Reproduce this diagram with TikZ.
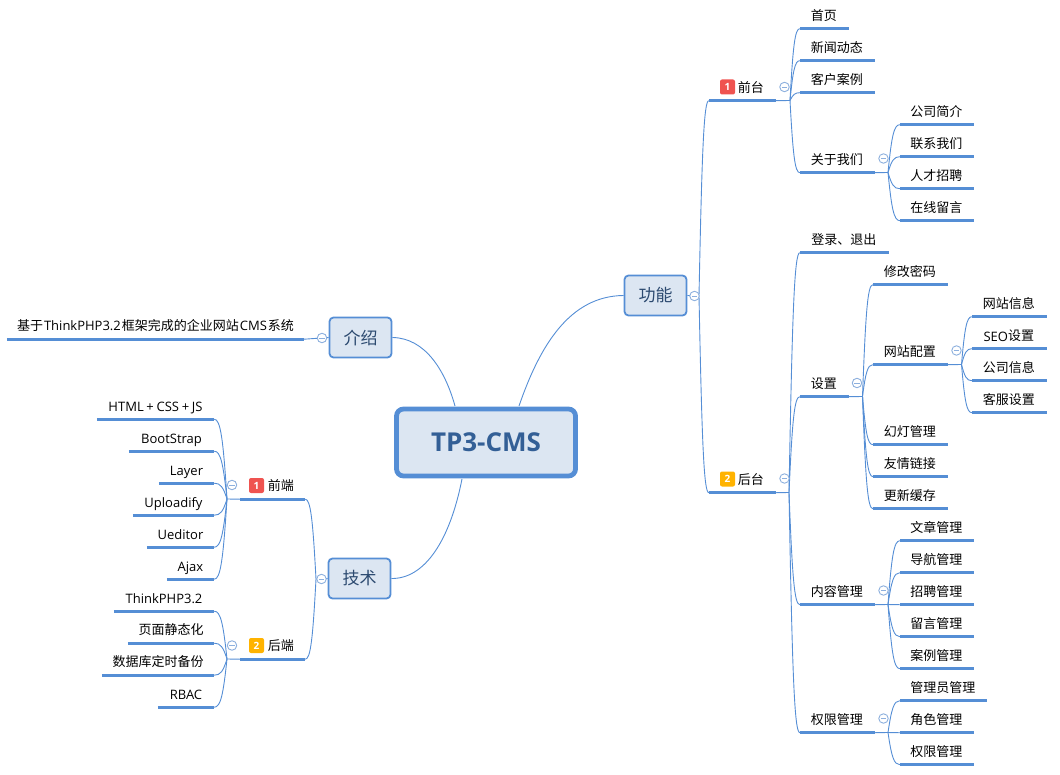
\documentclass[tikz,border=0pt]{standalone}
\usepackage{fontspec}
\setmainfont{Noto Sans CJK SC}
\newfontfamily\rootfont{Open Sans}
\usetikzlibrary{calc}
\definecolor{lineblue}{HTML}{558ED5}
\definecolor{boxfill}{HTML}{DCE6F2}
\definecolor{rootink}{HTML}{335F96}
\definecolor{mainink}{HTML}{2C4A70}
\definecolor{circ}{HTML}{8DB0DE}
\definecolor{badgered}{HTML}{EF5350}
\definecolor{badgeamber}{HTML}{FFB300}
\tikzset{
  topic/.style={inner sep=0pt,minimum height=26pt,text height=11.4pt,text depth=1.56pt,font=\fontsize{13}{13}\selectfont,text=black},
  under/.style={draw=lineblue,line width=2.7pt},
  thin link/.style={draw=lineblue,line width=0.9pt},
  mainbox/.style={draw=lineblue,fill=boxfill,line width=1.8pt,rounded corners=4pt,inner sep=0pt,
    minimum width=62pt,minimum height=40pt,font=\fontsize{17}{17}\selectfont,text=mainink},
  rootbox/.style={draw=lineblue,fill=boxfill,line width=4.8pt,rounded corners=7pt,inner sep=0pt,
    minimum width=179pt,minimum height=67pt,font=\rootfont\fontsize{26}{26}\selectfont\bfseries,text=rootink},
  collapse/.style={circle,draw=circ,fill=white,line width=0.9pt,minimum size=9.5pt,inner sep=0pt,
    path picture={\draw[circ,line width=0.9pt] ([xshift=2.2pt]path picture bounding box.west) -- ([xshift=-2.2pt]path picture bounding box.east);}},
  badge/.style={rounded corners=2pt,minimum size=15pt,inner sep=0pt,text=white,font=\rootfont\fontsize{10}{10}\selectfont\bfseries},
  badgeone/.style={badge,fill=badgered},
  badgetwo/.style={badge,fill=badgeamber},
}
\newcommand\lat[1]{{\rootfont #1}}
\newcommand\latl[1]{\raisebox{-0.8pt}{\rootfont #1}}
\def\tshift{-1.5pt}
% name, x1, x2, line y, text
\newcommand\topicnode[5]{%
  \node[topic,minimum width={(#3-#2)*1pt}] (#1) at ({(#2+#3)/2},{#4-13}) {\hspace{\tshift}#5};
  \draw[under] (#1.south west) -- (#1.south east);}
% from junction to the start of a child's line
\newcommand\linkto[2]{%
  \draw[thin link] let \p1=(#1),\p2=(#2) in (\p1) .. controls ({\x1+0.3*(\x2-\x1)},{\y1+0.75*(\y2-\y1)}) and ({\x1+0.5*(\x2-\x1)},\y2) .. (\p2);}
\begin{document}
\begin{tikzpicture}[x=1pt,y=-1pt]
\useasboundingbox (0,0) rectangle (1060,775);
% main boxes
\node[rootbox] (root) at (486,442.5) {\raisebox{-0.8pt}{TP3-CMS}};
\node[mainbox] (gn) at (655.5,295.5) {功能};
\node[mainbox] (js) at (360.5,337.5) {介绍};
\node[mainbox] (tech) at (359.5,578.5) {技术};
\coordinate (rgn) at (519,406);
\coordinate (rjs) at (455,406);
\coordinate (rtech) at (462,479);
\draw[thin link] (gn.west) .. controls (570,296) and (540,345) .. (rgn);
\draw[thin link] (js.east) .. controls (425,338) and (445,370) .. (rjs);
\draw[thin link] (tech.east) .. controls (425,579) and (450,540) .. (rtech);

% right side, level 1
\topicnode{qt}{709}{776}{100.5}{\hspace{18pt}前台}
\topicnode{ht}{709}{776}{492.5}{\hspace{18pt}后台}
\node[badgeone] (bq) at (727.5,87) {1};
\node[badgetwo] (bh) at (727.5,479) {2};
\coordinate (jgn) at (699,296);
\draw[thin link] (gn.east) -- (jgn);
\linkto{jgn}{qt.south west}
\linkto{jgn}{ht.south west}

% front desk
\topicnode{a1}{800}{849}{28.5}{首页}
\topicnode{a2}{800}{875}{60.5}{新闻动态}
\topicnode{a3}{800}{875}{92.5}{客户案例}
\topicnode{a4}{800}{875}{172.5}{关于我们}
\coordinate (jqt) at (790,100.5);
\draw[thin link] (qt.south east) -- (jqt);
\foreach \c in {a1,a2,a3,a4} {\linkto{jqt}{\c.south west}}
\topicnode{b1}{900}{974}{124.5}{公司简介}
\topicnode{b2}{900}{974}{156.5}{联系我们}
\topicnode{b3}{900}{974}{188.5}{人才招聘}
\topicnode{b4}{900}{974}{220.5}{在线留言}
\coordinate (ja4) at (888,172.5);
\draw[thin link] (a4.south east) -- (ja4);
\foreach \c in {b1,b2,b3,b4} {\linkto{ja4}{\c.south west}}

% back end
\topicnode{c1}{800}{889}{252.5}{登录、退出}
\topicnode{c2}{800}{849}{396.5}{设置}
\topicnode{c3}{800}{875}{604.5}{内容管理}
\topicnode{c4}{800}{875}{732.5}{权限管理}
\coordinate (jht) at (789,492.5);
\draw[thin link] (ht.south east) -- (jht);
\foreach \c in {c1,c2,c3,c4} {\linkto{jht}{\c.south west}}

\topicnode{d1}{873}{948}{284.5}{修改密码}
\topicnode{d2}{873}{948}{364.5}{网站配置}
\topicnode{d3}{873}{948}{444.5}{幻灯管理}
\topicnode{d4}{873}{948}{476.5}{友情链接}
\topicnode{d5}{873}{948}{508.5}{更新缓存}
\coordinate (jc2) at (862.5,396.5);
\draw[thin link] (c2.south east) -- (jc2);
\foreach \c in {d1,d2,d3,d4,d5} {\linkto{jc2}{\c.south west}}

\topicnode{e1}{972}{1047}{316.5}{网站信息}
\topicnode{e2}{972}{1047}{348.5}{\latl{SEO}设置}
\topicnode{e3}{972}{1047}{380.5}{公司信息}
\topicnode{e4}{972}{1047}{412.5}{客服设置}
\coordinate (jd2) at (961.5,364.5);
\draw[thin link] (d2.south east) -- (jd2);
\foreach \c in {e1,e2,e3,e4} {\linkto{jd2}{\c.south west}}

\topicnode{f1}{900}{974}{540.5}{文章管理}
\topicnode{f2}{900}{974}{572.5}{导航管理}
\topicnode{f3}{900}{974}{604.5}{招聘管理}
\topicnode{f4}{900}{974}{636.5}{留言管理}
\topicnode{f5}{900}{974}{668.5}{案例管理}
\coordinate (jc3) at (888,604.5);
\draw[thin link] (c3.south east) -- (jc3);
\foreach \c in {f1,f2,f3,f4,f5} {\linkto{jc3}{\c.south west}}

\topicnode{g1}{900}{987}{700.5}{管理员管理}
\topicnode{g2}{900}{974}{732.5}{角色管理}
\topicnode{g3}{900}{974}{764.5}{权限管理}
\coordinate (jc4) at (888,732.5);
\draw[thin link] (c4.south east) -- (jc4);
\foreach \c in {g1,g2,g3} {\linkto{jc4}{\c.south west}}

% left side
\def\tshift{0pt}
\topicnode{i1}{7}{304}{339}{基于\hspace{1pt}\lat{ThinkPHP3.2}\hspace{1pt}框架完成的企业网站\hspace{1pt}\lat{CMS}\hspace{1pt}系统}
\draw[thin link] (i1.south east) -- (js.west);

\def\tshift{-1.5pt}
\topicnode{q}{240}{305}{499}{\hspace{18pt}前端}
\topicnode{h}{240}{305}{659}{\hspace{18pt}后端}
\node[badgeone] (bqd) at (256.5,485.5) {1};
\node[badgetwo] (bhd) at (256.5,645.5) {2};
\coordinate (jtech) at (316,579);
\draw[thin link] (tech.west) -- (jtech);
\linkto{jtech}{q.south east}
\linkto{jtech}{h.south east}

\def\tshift{0pt}
\topicnode{k1}{97}{214}{419}{\latl{HTML\hspace{2.7pt}+\hspace{2.7pt}CSS\hspace{2.7pt}+\hspace{2.7pt}JS}}
\topicnode{k2}{129}{214}{451}{\latl{BootStrap}}
\topicnode{k3}{159}{214}{483}{\latl{Layer}}
\topicnode{k4}{133}{214}{515}{\latl{Uploadify}}
\topicnode{k5}{147}{214}{547}{\latl{Ueditor}}
\topicnode{k6}{167}{214}{579}{\latl{Ajax}}
\coordinate (jq) at (227,499);
\draw[thin link] (q.south west) -- (jq);
\foreach \c in {k1,k2,k3,k4,k5,k6} {\linkto{jq}{\c.south east}}

\topicnode{m1}{114}{214}{611}{\latl{ThinkPHP3.2}}
\topicnode{m2}{128}{214}{643}{页面静态化}
\topicnode{m3}{102}{214}{675}{数据库定时备份}
\topicnode{m4}{158}{214}{707}{\latl{RBAC}}
\coordinate (jh) at (227,659);
\draw[thin link] (h.south west) -- (jh);
\foreach \c in {m1,m2,m3,m4} {\linkto{jh}{\c.south east}}

% collapse marks
\node[collapse] (x1) at (694.5,296) {};
\node[collapse] (x2) at (322,338) {};
\node[collapse] (x3) at (321.5,579) {};
\node[collapse] (x4) at (784.5,87) {};
\node[collapse] (x5) at (883.5,158.5) {};
\node[collapse] (x6) at (784.5,478.5) {};
\node[collapse] (x7) at (857,383) {};
\node[collapse] (x8) at (956.5,350.5) {};
\node[collapse] (x9) at (883.5,590.5) {};
\node[collapse] (x10) at (883.5,718.5) {};
\node[collapse] (x11) at (232,485) {};
\node[collapse] (x12) at (232,645.5) {};
\end{tikzpicture}
\end{document}
